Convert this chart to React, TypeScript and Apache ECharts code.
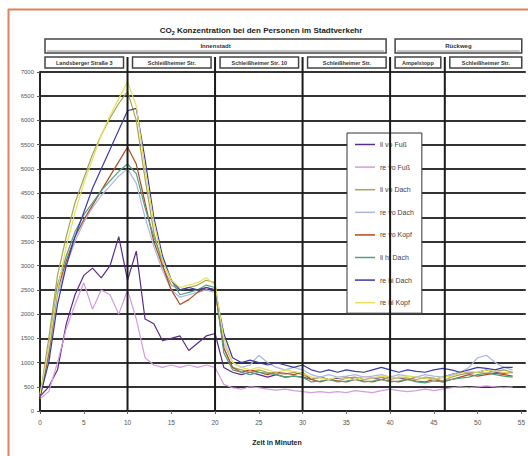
import React, { useEffect, useRef } from "react";
import * as echarts from "echarts";

const times = [0,1,2,3,4,5,6,7,8,9,10,11,12,13,14,15,16,17,18,19,20,21,22,23,24,25,26,27,28,29,30,31,32,33,34,35,36,37,38,39,40,41,42,43,44,45,46,47,48,49,50,51,52,53,54];

const seriesNames = ["li vo Fuß", "re vo Fuß", "li vo Dach", "re vo Dach", "re vo Kopf", "li hi Dach", "re hi Dach", "re hi Kopf"];
const seriesColors = ["#5b2c8a", "#d49be0", "#a9a25a", "#aab6e6", "#b04a20", "#52a07c", "#3a3aa8", "#e6e05a"];

const liVoFuss = [300,500,850,1800,2400,2800,2950,2750,3000,3600,2700,3300,1900,1800,1450,1500,1550,1250,1400,1550,1600,900,800,750,800,750,700,750,700,720,700,650,700,650,680,700,650,700,680,650,700,680,650,700,680,650,700,750,800,780,800,850,800,780,800];
const reVoFuss = [250,400,1000,1700,2200,2650,2100,2500,2400,2000,2500,1900,1100,950,900,950,900,950,900,950,900,550,480,450,500,480,450,430,450,420,400,380,400,380,400,380,420,400,380,420,450,420,400,420,450,420,450,480,500,480,500,520,500,480,500];
const liVoDach = [300,1500,2800,3600,4300,4800,5300,5700,6050,6350,6600,6000,4800,3700,3000,2600,2500,2550,2600,2700,2650,1300,900,850,800,850,800,780,760,800,750,650,700,650,620,680,700,650,680,700,650,700,680,650,700,680,620,700,750,780,800,780,820,850,800];
const reVoDach = [300,1100,2400,3000,3500,3900,4200,4450,4650,4850,5000,4700,4000,3400,2900,2500,2350,2400,2450,2500,2450,1400,1000,900,950,1150,1000,900,850,900,850,750,700,750,700,720,750,700,720,750,700,750,720,700,750,720,700,750,800,900,1100,1150,1000,900,850];
const reVoKopf = [250,1200,2500,3100,3600,3950,4250,4550,4850,5150,5450,5100,4300,3500,3000,2500,2200,2300,2450,2550,2500,1300,900,800,850,800,750,800,780,750,800,650,600,650,620,600,650,620,600,650,620,600,650,620,600,650,600,650,700,750,720,750,780,750,720];
const liHiDach = [300,1300,2600,3200,3700,4050,4300,4550,4750,4950,5100,4900,4200,3600,3100,2700,2400,2450,2500,2600,2550,1200,850,800,750,800,780,750,700,720,700,600,620,650,600,620,650,600,620,650,600,620,650,600,580,620,600,650,680,700,750,780,750,720,700];
const reHiDach = [300,1000,2200,3000,3600,4100,4600,5000,5400,5800,6200,6250,5200,4000,3200,2700,2500,2550,2500,2550,2500,1600,1100,1000,1050,1000,950,1000,950,900,950,850,800,850,800,850,820,800,850,900,850,800,850,820,800,850,880,850,800,850,900,880,850,900,900];
const reHiKopf = [350,1300,2500,3400,4100,4700,5200,5700,6100,6450,6800,6300,5000,3900,3100,2700,2550,2600,2650,2750,2600,1500,1000,900,850,900,850,800,850,820,780,700,680,650,700,680,650,700,680,720,700,680,720,700,680,650,700,720,780,820,800,850,820,800,780];

const seriesValues = [liVoFuss, reVoFuss, liVoDach, reVoDach, reVoKopf, liHiDach, reHiDach, reHiKopf];

const xTicks = [0,5,10,15,20,25,30,35,40,45,50,55];
const eventTimes = [10, 20, 30, 40, 46.25];
const sectionBounds = [0, 10, 20, 30, 40, 46.25, 55.5];
const sectionLabels = ["Landsberger Straße 3", "Schleißheimer Str.", "Schleißheimer Str. 10", "Schleißheimer Str.", "Ampelstopp", "Schleißheimer Str."];
const groupBounds = [[0, 40], [40, 55.5]];
const groupLabels = ["Innenstadt", "Rückweg"];
const titleText = "CO{sub|2} Konzentration bei den Personen im Stadtverkehr";
const xAxisTitle = "Zeit in Minuten";

const FONT = "Liberation Sans, Arial, sans-serif";

export default function App() {
  const ref = useRef<HTMLDivElement>(null);
  useEffect(() => {
    document.body.style.margin = "0";
    const chart = echarts.init(ref.current!, null, { renderer: "svg" });
    chart.setOption({
      animation: false,
      backgroundColor: "#fff",
      textStyle: { fontFamily: FONT },
      grid: { left: 40, right: 0, top: 72, bottom: 45 },
      legend: {
        orient: "vertical",
        left: 347,
        top: 133,
        data: seriesNames,
        icon: "rect",
        itemWidth: 20,
        itemHeight: 1.5,
        itemGap: 15.6,
        padding: [8, 8, 7, 8],
        borderColor: "#333",
        borderWidth: 1,
        backgroundColor: "#fff",
        textStyle: { fontSize: 7, color: "#444", fontFamily: FONT },
      },
      xAxis: {
        type: "value",
        min: 0,
        max: 55.5,
        interval: 5,
        axisLine: { show: true, onZero: false, lineStyle: { color: "#222", width: 2 } },
        axisTick: { show: true, length: 3, customValues: xTicks, lineStyle: { color: "#666" } },
        axisLabel: { fontSize: 6.5, color: "#555", margin: 8, customValues: xTicks, formatter: (v: number) => String(v) },
        splitLine: { show: false },
      },
      yAxis: {
        type: "value",
        min: 0,
        max: 7000,
        interval: 500,
        axisLine: { show: true, lineStyle: { color: "#222", width: 2 } },
        axisTick: { show: true, length: 3, lineStyle: { color: "#555" } },
        axisLabel: { fontSize: 6, color: "#555", margin: 6, formatter: (v: number) => String(v) },
        splitLine: { show: true, lineStyle: { color: "#333", width: 2 } },
      },
      series: seriesNames.map((name, i) => ({
        name,
        type: "line",
        showSymbol: false,
        symbol: "none",
        color: seriesColors[i],
        lineStyle: { width: 1.2, color: seriesColors[i] },
        data: times.map((t, j) => [t, seriesValues[i][j]]),
      })),
    });

    const px = (t: number) => chart.convertToPixel({ xAxisIndex: 0 }, t) as number;
    const yBottom = chart.convertToPixel({ yAxisIndex: 0 }, 0) as number;

    const graphics: any[] = [];
    graphics.push({ type: "line", shape: { x1: 8.5, y1: 9, x2: 8.5, y2: 456 }, style: { stroke: "#e0825c", lineWidth: 2 }, z: 20 });
    graphics.push({ type: "line", shape: { x1: 8, y1: 9.5, x2: 528, y2: 9.5 }, style: { stroke: "#e0825c", lineWidth: 2 }, z: 20 });
    graphics.push({
      type: "text", x: 261, y: 30,
      style: {
        text: titleText, fontSize: 8, fontWeight: "bold", fill: "#222", align: "center", verticalAlign: "middle", fontFamily: FONT,
        rich: { sub: { fontSize: 5.5, fontWeight: "bold", fill: "#222", padding: [5, 0, 0, 0], fontFamily: FONT } },
      },
    });
    groupBounds.forEach((g, i) => {
      const x1 = px(g[0]) + 5;
      const x2 = Math.min(px(g[1]) - 4, 527);
      graphics.push({ type: "rect", shape: { x: x1, y: 39, width: x2 - x1, height: 14 }, style: { fill: "#fff", stroke: "#444", lineWidth: 1.5 }, z: 5 });
      graphics.push({ type: "line", shape: { x1: x1 + 2, y1: 51, x2: x2 - 2, y2: 51 }, style: { stroke: "#888", lineWidth: 1 }, z: 6 });
      graphics.push({ type: "text", x: (x1 + x2) / 2, y: 46, style: { text: groupLabels[i], fontSize: 6, fontWeight: "bold", fill: "#333", align: "center", verticalAlign: "middle", fontFamily: FONT }, z: 6 });
    });
    for (let i = 0; i < sectionBounds.length - 1; i++) {
      const x1 = px(sectionBounds[i]) + 5;
      const x2 = Math.min(px(sectionBounds[i + 1]) - 4, 527);
      graphics.push({ type: "rect", shape: { x: x1, y: 57, width: x2 - x1, height: 11 }, style: { fill: "#fff", stroke: "#444", lineWidth: 1.5 }, z: 5 });
      graphics.push({ type: "text", x: (x1 + x2) / 2, y: 62.5, style: { text: sectionLabels[i], fontSize: 5.5, fontWeight: "bold", fill: "#333", align: "center", verticalAlign: "middle", fontFamily: FONT }, z: 6 });
    }
    eventTimes.forEach((t) => {
      const x = px(t);
      graphics.push({ type: "line", shape: { x1: x, y1: 57, x2: x, y2: yBottom }, style: { stroke: "#1a1a1a", lineWidth: 2 }, z: 10 });
    });
    graphics.push({
      type: "text", x: 277, y: 442,
      style: { text: xAxisTitle, fontSize: 7, fontWeight: "bold", fill: "#222", align: "center", verticalAlign: "middle", fontFamily: FONT },
    });
    chart.setOption({ graphic: graphics });

    return () => chart.dispose();
  }, []);
  return <div ref={ref} style={{ width: 528, height: 456 }} />;
}
